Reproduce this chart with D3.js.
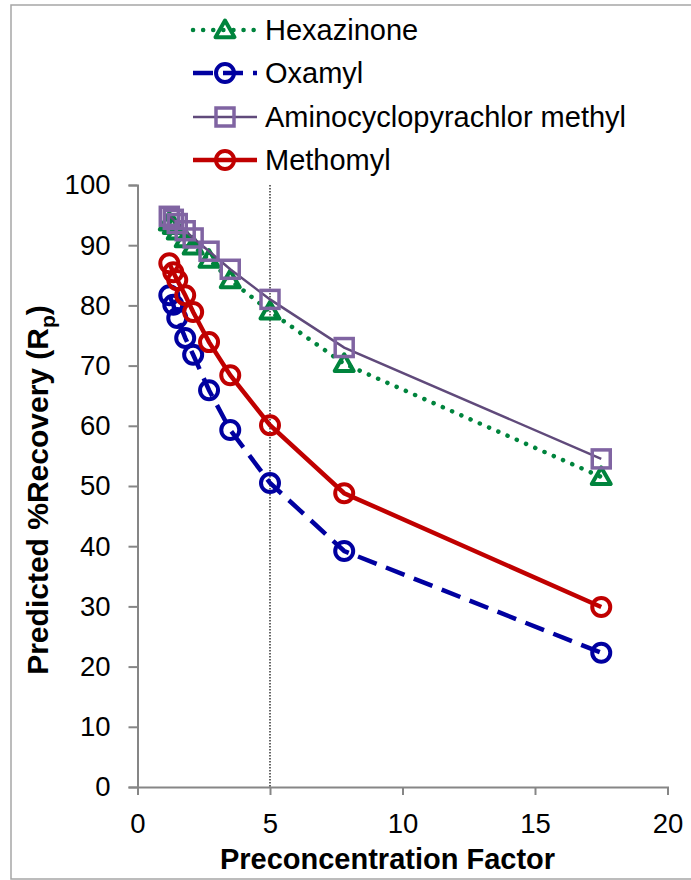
<!DOCTYPE html>
<html>
<head>
<meta charset="utf-8">
<script src="https://cdnjs.cloudflare.com/ajax/libs/d3/7.9.0/d3.min.js"></script>
<style>
  html, body { margin: 0; padding: 0; background: #fff; }
  svg { display: block; font-family: "Liberation Sans", Arial, sans-serif; }
</style>
</head>
<body>
<div id="chart"></div>
<script>
// preconcentration factors (x) shared by every series
const factors = [1.2, 1.35, 1.5, 1.8, 2.1, 2.7, 3.5, 5, 7.8, 17.5];

// predicted % recovery
const hexazinone  = [93.8, 93.2, 92.3, 91.0, 89.8, 87.6, 84.2, 79.0, 70.3, 51.5];
const oxamyl      = [81.7, 80.1, 77.9, 74.6, 71.8, 65.9, 59.3, 50.5, 39.2, 22.3];
const aminocyclo  = [94.8, 94.3, 93.6, 92.4, 91.2, 89.0, 86.0, 81.0, 73.0, 54.5];
const methomyl    = [87.0, 85.5, 84.2, 81.7, 78.9, 73.9, 68.4, 60.1, 48.8, 29.9];

const xTicks = [0, 5, 10, 15, 20];
const yTicks = [0, 10, 20, 30, 40, 50, 60, 70, 80, 90, 100];

const series = [
  { name: 'Hexazinone', values: hexazinone, line: '#00843D', mark: '#00843D', width: 4.5, dash: '0.1 10', cap: 'round', marker: 'triangle' },
  { name: 'Oxamyl', values: oxamyl, line: '#0000A0', mark: '#0000A0', width: 4.5, dash: '20 10', cap: 'butt', marker: 'circle' },
  { name: 'Aminocyclopyrachlor methyl', values: aminocyclo, line: '#604A7B', mark: '#8064A2', width: 2.5, dash: null, cap: 'butt', marker: 'square' },
  { name: 'Methomyl', values: methomyl, line: '#C00000', mark: '#C00000', width: 4.5, dash: null, cap: 'butt', marker: 'circle' }
];

const W = 691, H = 880;
const m = { left: 137.5, right: 667.5, top: 185, bottom: 787 };
const font = '"Liberation Sans", Arial, sans-serif';

const svg = d3.select('#chart').append('svg').attr('width', W).attr('height', H);

// outer frame
svg.append('rect')
  .attr('x', 11).attr('y', 5).attr('width', W + 10).attr('height', 874)
  .attr('fill', 'none').attr('stroke', '#a6a6a6').attr('stroke-width', 1.5);

const x = d3.scaleLinear().domain([0, 20]).range([m.left, m.right]);
const y = d3.scaleLinear().domain([0, 100]).range([m.bottom, m.top]);

// axes
const xAxis = svg.append('g').attr('transform', `translate(0,${m.bottom})`)
  .call(d3.axisBottom(x).tickValues(xTicks).tickSize(8).tickPadding(18));
const yAxis = svg.append('g').attr('transform', `translate(${m.left},0)`)
  .call(d3.axisLeft(y).tickValues(yTicks).tickSize(9).tickPadding(18));
[xAxis, yAxis].forEach(a => {
  a.select('.domain').attr('stroke', '#868686').attr('stroke-width', 2);
  a.selectAll('.tick line').attr('stroke', '#868686').attr('stroke-width', 2);
  a.selectAll('.tick text').attr('fill', '#000').style('font-size', '27.5px')
    .style('font-family', font);
});

// vertical reference line at factor 5
svg.append('line')
  .attr('x1', x(5)).attr('x2', x(5)).attr('y1', m.top).attr('y2', m.bottom)
  .attr('stroke', '#000').attr('stroke-width', 1.2).attr('stroke-dasharray', '1.5 1.5');

const line = d3.line().x(d => x(d[0])).y(d => y(d[1]));

function drawMarker(g, s, cx, cy) {
  if (s.marker === 'circle') {
    g.append('circle').attr('cx', cx).attr('cy', cy).attr('r', 9)
      .attr('fill', 'none').attr('stroke', s.mark).attr('stroke-width', 4);
  } else if (s.marker === 'square') {
    g.append('rect').attr('x', cx - 9).attr('y', cy - 9).attr('width', 18).attr('height', 18)
      .attr('fill', 'none').attr('stroke', s.mark).attr('stroke-width', 3.5);
  } else {
    const r = 9.5;
    g.append('path')
      .attr('d', `M${cx},${cy - r}L${cx + r},${cy + r * 0.75}L${cx - r},${cy + r * 0.75}Z`)
      .attr('fill', 'none').attr('stroke', s.mark).attr('stroke-width', 4).attr('stroke-linejoin', 'round');
  }
}

series.forEach(s => {
  const pts = factors.map((f, i) => [f, s.values[i]]);
  const g = svg.append('g');
  g.append('path').datum(pts).attr('d', line)
    .attr('fill', 'none').attr('stroke', s.line).attr('stroke-width', s.width)
    .attr('stroke-linecap', s.cap).attr('stroke-dasharray', s.dash);
  pts.forEach(p => drawMarker(g, s, x(p[0]), y(p[1])));
});

// legend
const legendY = [30, 73, 117, 160];
series.forEach((s, i) => {
  const g = svg.append('g');
  const ly = legendY[i];
  g.append('line').attr('x1', 193).attr('x2', 257).attr('y1', ly).attr('y2', ly)
    .attr('stroke', s.line).attr('stroke-width', s.width)
    .attr('stroke-linecap', s.cap).attr('stroke-dasharray', s.dash);
  drawMarker(g, s, 225, ly);
  g.append('text').attr('x', 265).attr('y', ly + 10).text(s.name)
    .style('font-size', '29px').attr('fill', '#000');
});

// axis titles
svg.append('text')
  .attr('x', (m.left + m.right) / 2 - 15).attr('y', 869)
  .attr('text-anchor', 'middle').style('font-size', '29px').style('font-weight', 'bold')
  .text('Preconcentration Factor');

const yt = svg.append('text')
  .attr('transform', `translate(48,490) rotate(-90)`)
  .attr('text-anchor', 'middle').style('font-size', '30px').style('font-weight', 'bold');
yt.append('tspan').text('Predicted %Recovery (R');
yt.append('tspan').attr('dy', 7).style('font-size', '21px').text('p');
yt.append('tspan').attr('dy', -7).text(')');
</script>
</body>
</html>
